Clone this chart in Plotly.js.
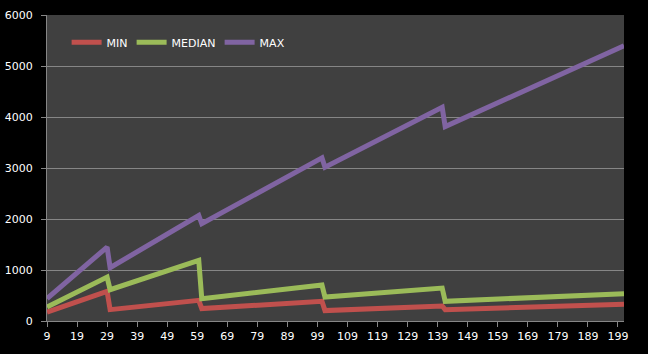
<!DOCTYPE html>
<html>
<head>
<meta charset="utf-8">
<script src="https://cdn.plot.ly/plotly-3.0.1.min.js"></script>
<style>html,body{margin:0;padding:0;background:#000;}#chart{width:648px;height:354px;}</style>
</head>
<body>
<div id="chart"></div>
<script>
// Values (breakpoints of each line)
const minX    = [9, 29, 30, 59.5, 60.5, 100.5, 101.5, 140.5, 141.5, 201];
const minY    = [176, 581, 223, 405, 243, 386, 204, 294, 223, 327];
const medianX = [9, 29, 30, 59.5, 60.5, 100.5, 101.5, 140.5, 141.5, 201];
const medianY = [274, 861, 614, 1188, 435, 705, 470, 646, 386, 536];
const maxX    = [9, 29, 30, 59.5, 60.5, 100.5, 101.5, 140.5, 141.5, 201];
const maxY    = [440, 1449, 1045, 2069, 1907, 3199, 3015, 4190, 3812, 5397];
const tickVals = [9, 19, 29, 39, 49, 59, 69, 79, 89, 99, 109, 119, 129, 139, 149, 159, 169, 179, 189, 199];
const tickText = tickVals.map(String);
const seriesNames = ['MIN', 'MEDIAN', 'MAX'];
const colors = ['#C0504D', '#9BBB59', '#8064A2'];
const legendWidths = [20, 43, 30];

const xs = [minX, medianX, maxX];
const ys = [minY, medianY, maxY];
const traces = seriesNames.map((n, i) => ({
  type: 'scatter', mode: 'lines', name: n,
  x: xs[i], y: ys[i],
  legendwidth: legendWidths[i],
  line: {color: colors[i], width: 5}
}));

const font = {family: 'DejaVu Sans, Verdana, sans-serif', size: 11, color: '#FFFFFF'};
const layout = {
  width: 648, height: 354,
  paper_bgcolor: '#000000', plot_bgcolor: '#404040',
  margin: {l: 47, r: 24, t: 15, b: 33, pad: 0},
  font: font,
  showlegend: true,
  legend: {orientation: 'h', x: 0.034, y: 0.911, xanchor: 'left', yanchor: 'middle',
           bgcolor: 'rgba(0,0,0,0)', font: font, itemwidth: 30, tracegroupgap: 0},
  xaxis: {range: [9, 201], tickmode: 'array', tickvals: tickVals, ticktext: tickText,
          showgrid: false, zeroline: false, showline: true, linecolor: '#868686', linewidth: 1,
          ticks: 'outside', ticklen: 5, tickcolor: '#868686', tickfont: font, fixedrange: true},
  yaxis: {range: [0, 6000], dtick: 1000, showgrid: true, gridcolor: '#868686', gridwidth: 1,
          zeroline: false, showline: true, linecolor: '#868686', linewidth: 1,
          ticks: 'outside', ticklen: 5, tickcolor: '#868686', tickfont: font, fixedrange: true,
          ticklabelstandoff: 6}
};
Plotly.newPlot('chart', traces, layout, {displayModeBar: false, staticPlot: true});
</script>
</body>
</html>
